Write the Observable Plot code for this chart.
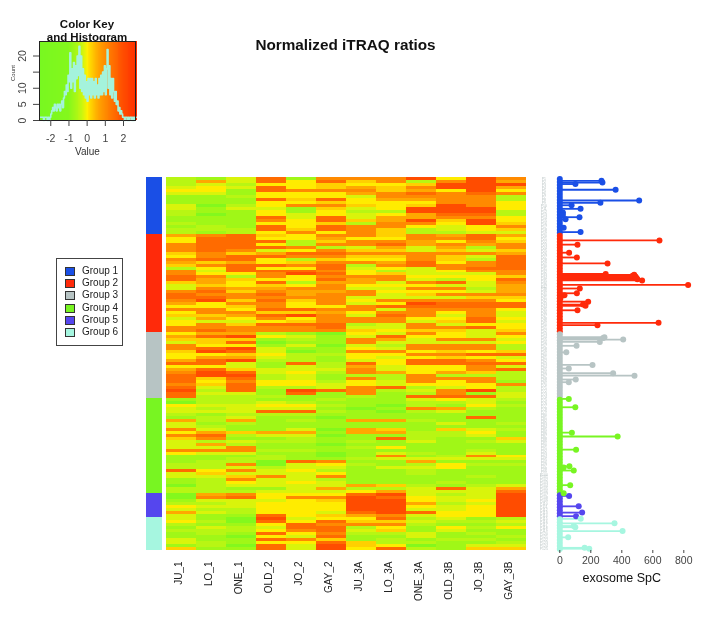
<!DOCTYPE html>
<html><head><meta charset="utf-8">
<script src="https://cdn.jsdelivr.net/npm/d3@7"></script>
<script src="https://cdn.jsdelivr.net/npm/@observablehq/plot@0.6"></script>
<style>
body{margin:0;background:#fff;font-family:"Liberation Sans",Arial,sans-serif}
#wrap{position:relative;width:708px;height:624px;overflow:hidden;filter:blur(0.45px)}
#wrap>div,#wrap>svg,#wrap>figure{position:absolute;margin:0}
svg{overflow:visible;background:transparent !important}
</style></head><body><div id="wrap"></div>
<script>
const samples = ["JU_1","LO_1","ONE_1","OLD_2","JO_2","GAY_2","JU_3A","LO_3A","ONE_3A","OLD_3B","JO_3B","GAY_3B"];
const groups = ["Group 1","Group 2","Group 3","Group 4","Group 5","Group 6"];
const groupColors = ["#1a4fe6","#ff2a0a","#b7c4c4","#78f522","#5546ee","#a6f6e0"];
const groupSizes = [19,33,22,32,8,11];

// value of each heat level 0 (low) to 9 (high)
const levelValues = [-1.2,-0.7,-0.45,-0.2,0.03,0.25,0.6,1,1.5,2];
const colorStops = [-2.6,-1,-0.3,0,0.5,1,2,2.66];
const colorRange = ["#78f820","#84f81c","#c6f610","#fff000","#ffb000","#ff8a00","#ff4c00","#ff3000"];

// one string per protein row, one level digit per sample
const heatRows = [
"213817779497","263848572796","232445445999","343845657996","441877756494","331444678787",
"112444377772","111858466772","111445444774","302477545974","313315349994","211414229992",
"201434346882","111838366774","111748569594","211445277495","121848774347","222858752345","212474752233",
"678547757686","488446447784","488825776475","788427786767","788872363627","787347553535",
"575688777776","478877557538","788425447528","656457768478","578878278778","248448343788",
"738887423477","744798453337","872747774445","865448673248","564826637837","354547444336",
"376677337726","785766744436","877867735777","887777333355","795857477774","647747349888",
"445744788888","774887737774","477556477473","556897387373","364747774484","433457773583",
"475888237344","777778337784","787777545535",
"466210437437","689431384434","555121763773","358011733334","744130327772","789311437772",
"598301774545","445422447788","466321434543",
"689221348874","883182848888","443132634473","685333734478","798342764652","899231227222",
"858231727772","847442437471","758443434447","838223782342","928198723792","833181712713","822211218883",
"122112113432","022321112231","433442102142","323331017621","333882102311","212221111111",
"123110111181","626121662111","312111111312","321111111111","731130651532","465661662241",
"782330112231","571121182115","323221213123","362110111111","337111241111","777221111121",
"433110132131","111210171274","112211233333","122087116111","227034212422","223233133411",
"847342112111","353334112111","335737111121","127332111111","124343111211","023333652123",
"221136223836","222333463338",
"067444893239","078477984339","133345994349","223444996239","433444994349","322444993349",
"632443898449","311845673449",
"310934482312","420848553223","211487772112","132388241424","222478351311",
"121847223121","110438113112","311875121221","321448522112","120839540133","511839482155"
];

const rows = heatRows.map((_, i) => i);
const rowGroup = rows.map(i => {
  let s = 0;
  for (let g = 0; g < groupSizes.length; g++) { s += groupSizes[g]; if (i < s) return groups[g]; }
});
const cells = heatRows.flatMap((r, i) => samples.map((s, j) => ({row: i, sample: s, value: levelValues[+r[j]]})));

// exosome spectral counts: position along the row axis and count
const spcRows = [1.1,1.7,2.2,4.1,7.7,8.5,9.3,10.5,11.7,12.6,13.3,14,16.8,18.3,
  21.1,22.5,25.2,26.8,28.8,32.3,32.6,32.9,33.2,33.5,33.8,34.1,34.5,36,37.2,38.8,39.5,40.5,41.6,42.6,43,44.5,48.7,49.5,
  53.5,53.8,54.3,55.1,56.4,58.6,62.8,64,65.6,66.4,67.7,68.6,74.2,
  77,85.5,86.8,91.2,96.8,97.2,98.2,103.1,105.8,106.7,
  110.2,112.3,113.5,114.4,
  115.9,116.8,117.2,118.5,120.6,124.1,124.4];
const spcValues = [269,275,101,360,512,262,76,134,20,20,127,37,25,134,
  643,114,60,110,308,296,480,470,488,490,496,500,531,828,129,110,30,4,183,150,166,114,637,243,
  288,280,409,258,108,42,211,58,344,482,103,58,58,
  100,78,373,105,62,25,90,67,25,60,
  122,144,105,135,
  353,90,100,405,54,160,190];
const spc = spcRows.map((r, i) => ({row: r, value: spcValues[i], group: rowGroup[Math.floor(r)]}));

const histCounts = [1,1,1,1,0,1,1,1,0,1,0,1,
  2,3,4,3,5,4,3,5,4,5,
  3,5,6,4,7,9,8,11,9,14,
  12,21,10,16,12,18,9,17,13,20,
  14,23,10,20,9,16,8,14,7,12,
  6,13,8,13,7,13,8,12,7,13,
  8,11,7,13,8,14,8,15,9,17,
  8,16,22,10,17,8,13,7,13,9,
  6,9,5,6,3,4,2,3,2,1,
  1,0,1,1,0,1,0,1,1,0,1,0,1,1,1];
const hist = histCounts.map((c, i) => ({x: -2.6 + i * 0.05, c}));

const wrap = document.getElementById("wrap");
const font = {fontFamily: "'Liberation Sans', Arial, sans-serif", background: "transparent", overflow: "visible"};
function place(node, left, top) { node.style.position = "absolute"; node.style.left = left + "px"; node.style.top = top + "px"; wrap.appendChild(node); return node; }
function html(tag, css, text) { const d = document.createElement(tag); d.style.cssText = css; d.textContent = text || ""; wrap.appendChild(d); return d; }

// titles
html("div", "left:0;width:691px;top:36px;text-align:center;font-size:15.3px;font-weight:bold;color:#111;", "Normalized iTRAQ ratios");
html("div", "left:27px;width:120px;top:18px;text-align:center;font-size:11.5px;line-height:13px;font-weight:bold;color:#111;white-space:pre;", "Color Key\nand Histogram");

// colour key with histogram
place(Plot.plot({
  width: 145, height: 160, marginLeft: 39, marginRight: 10, marginTop: 41, marginBottom: 40, style: font,
  x: {domain: [-2.62, 2.66]},
  y: {domain: [0, 24.5]},
  color: {type: "linear", domain: colorStops, range: colorRange, interpolate: "rgb"},
  marks: [
    Plot.rect(hist, {x1: "x", x2: d => d.x + 0.05, y1: () => 0, y2: () => 24.5, fill: "x", shapeRendering: "crispEdges"}),
    Plot.line(hist, {x: "x", y: "c", curve: "step-after", stroke: "#a4f3dc", strokeWidth: 1.6}),
    Plot.frame({stroke: "#222", strokeWidth: 1}),
    Plot.axisX({ticks: [-2,-1,0,1,2], tickSize: 6, tickPadding: 8, fontSize: 10.5, color: "#444", label: null, tickFormat: d => String(d)}),
    Plot.axisY({ticks: [0,5,10,15,20], tickSize: 6, tickPadding: 8, fontSize: 10.5, color: "#444", tickRotate: -90, label: null, tickFormat: d => d === 15 ? "" : String(d)}),
    Plot.text(["Count"], {frameAnchor: "left", dx: -26, rotate: -90, fontSize: 6, fill: "#333"}),
    Plot.text(["Value"], {frameAnchor: "bottom", dy: 34, fontSize: 10, fill: "#333"})
  ]
}), 0, 0);

// group legend
const legend = html("div", "left:56px;top:258px;width:65px;height:86px;border:1px solid #444;box-sizing:content-box;background:#fff;");
groups.forEach((g, i) => {
  const top = 7 + i * 12.2;
  const sw = document.createElement("div");
  sw.style.cssText = `position:absolute;left:8px;top:${top + 1}px;width:8px;height:7px;border:1px solid #333;background:${groupColors[i]}`;
  const t = document.createElement("div");
  t.style.cssText = `position:absolute;left:25px;top:${top - 1}px;font-size:10px;line-height:12px;color:#222;white-space:nowrap`;
  t.textContent = g;
  legend.append(sw, t);
});

// group side bar
place(Plot.plot({
  width: 16, height: 373, margin: 0, style: font,
  x: {domain: ["bar"], padding: 0, axis: null},
  y: {domain: rows, padding: 0, axis: null},
  color: {domain: groups, range: groupColors},
  marks: [Plot.cell(rows, {x: () => "bar", y: d => d, fill: d => rowGroup[d], shapeRendering: "crispEdges"})]
}), 146, 177);

// heat map
place(Plot.plot({
  width: 360, height: 373, margin: 0, marginBottom: 0, style: font,
  x: {domain: samples, padding: 0, axis: null},
  y: {domain: rows, padding: 0, axis: null},
  color: {type: "linear", domain: colorStops, range: colorRange, interpolate: "rgb"},
  marks: [
    Plot.cell(cells, {x: "sample", y: "row", fill: "value", shapeRendering: "crispEdges"}),
    Plot.axisX({anchor: "bottom", tickSize: 0, tickPadding: 11, tickRotate: -90, fontSize: 10, color: "#222", label: null, dx: -3})
  ]
}), 166, 177);

// exosome lollipops
place(Plot.plot({
  width: 178, height: 373, marginLeft: 29.3, marginRight: 24.7, marginTop: 0, marginBottom: 0, style: font,
  x: {domain: [0, 800]},
  y: {domain: [0, rows.length], reverse: true, axis: null},
  color: {domain: groups, range: groupColors},
  marks: [
    Plot.text(rows, {x: () => 0, y: d => d + 0.5, text: d => "P" + (d + 1), dx: -16, fontSize: 3.4, fill: "#b4bfbf"}),
    Plot.ruleY(spc, {x1: () => 0, x2: "value", y: "row", stroke: "group", strokeWidth: 1.8}),
    Plot.dot(rows, {x: () => 0, y: d => d + 0.5, r: 3, fill: d => rowGroup[d], stroke: "none"}),
    Plot.dot(spc, {x: "value", y: "row", r: 3, fill: "group", stroke: "none"}),
    Plot.axisX({anchor: "bottom", ticks: [0,200,400,600,800], tickSize: 3, tickPadding: 3, fontSize: 10.5, color: "#444", label: null, tickFormat: d => String(d)}),
    Plot.text(["exosome SpC"], {frameAnchor: "bottom", dy: 31, dx: 0, fontSize: 12.5, fill: "#111"})
  ]
}), 530, 177);
</script></body></html>
